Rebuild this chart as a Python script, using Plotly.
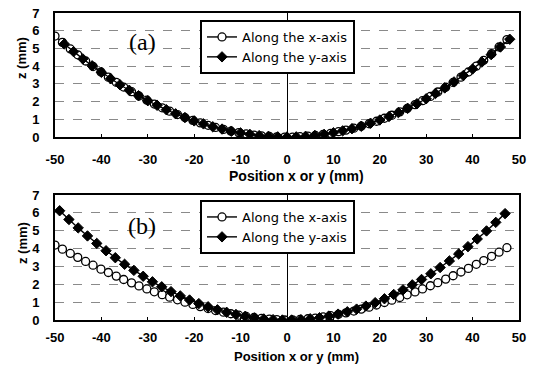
import plotly.graph_objects as go

# ---------------- data ----------------
x_ticks = [-50, -40, -30, -20, -10, 0, 10, 20, 30, 40, 50]
x_tick_text = ["-50", "-40", "-30", "-20", "-10", "0", "10", "20", "30", "40", "50"]
y_ticks = [0, 1, 2, 3, 4, 5, 6, 7]

# open-circle series positions (along the x-axis)
x_open = [-50.0, -48.4, -46.7, -45.1, -43.4, -41.8, -40.1, -38.5, -36.8, -35.2,
          -33.5, -31.9, -30.2, -28.6, -26.9, -25.3, -23.6, -22.0, -20.3, -18.7,
          -17.0, -15.4, -13.7, -12.1, -10.4, -8.8, -7.1, -5.5, -3.8, -2.2,
          -0.5, 1.2, 2.8, 4.5, 6.1, 7.8, 9.4, 11.1, 12.7, 14.4,
          16.0, 17.7, 19.3, 21.0, 22.6, 24.3, 25.9, 27.6, 29.2, 30.9,
          32.5, 34.2, 35.8, 37.5, 39.1, 40.8, 42.4, 44.1, 45.7, 47.4]

# (a) along the x-axis
za_x = [5.70, 5.34, 4.97, 4.64, 4.29, 3.98, 3.67, 3.38, 3.09, 2.82,
        2.56, 2.32, 2.08, 1.86, 1.65, 1.46, 1.27, 1.10, 0.94, 0.80,
        0.66, 0.54, 0.43, 0.33, 0.25, 0.18, 0.11, 0.07, 0.03, 0.01,
        0.00, 0.00, 0.02, 0.05, 0.09, 0.15, 0.21, 0.30, 0.39, 0.50,
        0.61, 0.75, 0.89, 1.06, 1.23, 1.42, 1.61, 1.83, 2.05, 2.29,
        2.54, 2.81, 3.08, 3.38, 3.67, 4.00, 4.33, 4.70, 5.08, 5.50]

# (a) along the y-axis
xa_y = [-48, -46, -44, -42, -40, -38, -36, -34, -32, -30,
        -28, -26, -24, -22, -20, -18, -16, -14, -12, -10,
        -8, -6, -4, -2, 0, 2, 4, 6, 8, 10,
        12, 14, 16, 18, 20, 22, 24, 26, 28, 30,
        32, 34, 36, 38, 40, 42, 44, 46, 48]
za_y = [5.25, 4.82, 4.41, 4.02, 3.65, 3.29, 2.95, 2.64, 2.33, 2.05,
        1.79, 1.54, 1.31, 1.10, 0.91, 0.74, 0.58, 0.45, 0.33, 0.23,
        0.15, 0.08, 0.04, 0.01, 0.00, 0.01, 0.04, 0.09, 0.15, 0.24,
        0.35, 0.47, 0.61, 0.78, 0.96, 1.16, 1.38, 1.62, 1.88, 2.16,
        2.46, 2.77, 3.11, 3.47, 3.84, 4.23, 4.65, 5.08, 5.52]

# (b) along the x-axis
zb_x = [4.20, 3.97, 3.73, 3.51, 3.28, 3.07, 2.85, 2.66, 2.46, 2.27,
        2.08, 1.91, 1.74, 1.58, 1.42, 1.28, 1.13, 1.00, 0.87, 0.75,
        0.64, 0.53, 0.44, 0.35, 0.27, 0.20, 0.14, 0.09, 0.05, 0.02,
        0.00, 0.01, 0.03, 0.07, 0.11, 0.17, 0.24, 0.32, 0.40, 0.50,
        0.61, 0.72, 0.84, 0.98, 1.11, 1.26, 1.41, 1.57, 1.74, 1.92,
        2.09, 2.29, 2.48, 2.69, 2.89, 3.12, 3.33, 3.57, 3.80, 4.05]

# (b) along the y-axis
xb_y = [-49, -47, -45, -43, -41, -39, -37, -35, -33, -31,
        -29, -27, -25, -23, -21, -19, -17, -15, -13, -11,
        -9, -7, -5, -3, -1, 1, 3, 5, 7, 9,
        11, 13, 15, 17, 19, 21, 23, 25, 27, 29,
        31, 33, 35, 37, 39, 41, 43, 45, 47]
zb_y = [6.12, 5.63, 5.16, 4.71, 4.29, 3.88, 3.49, 3.12, 2.78, 2.45,
        2.14, 1.86, 1.59, 1.35, 1.12, 0.92, 0.74, 0.57, 0.43, 0.31,
        0.21, 0.12, 0.06, 0.02, 0.00, 0.00, 0.02, 0.07, 0.13, 0.22,
        0.33, 0.46, 0.61, 0.78, 0.97, 1.19, 1.43, 1.69, 1.97, 2.27,
        2.59, 2.94, 3.31, 3.70, 4.11, 4.54, 4.99, 5.47, 5.96]

name_x = "Along the x-axis"
name_y = "Along the y-axis"
panel_labels = ["(a)", "(b)"]
x_title = "Position x or y (mm)"
y_title = "z (mm)"

# ---------------- figure ----------------
SANS = "Liberation Sans, Arial, sans-serif"
LEGSANS = "DejaVu Sans, Liberation Sans, sans-serif"
SERIF = "Liberation Serif, Times New Roman, serif"

open_marker = dict(symbol="circle", size=8, color="white",
                   line=dict(color="black", width=1.3))
fill_marker = dict(symbol="diamond", size=8, color="black",
                   line=dict(color="black", width=1))
line_style = dict(color="black", width=1.4)

fig = go.Figure()
fig.add_trace(go.Scatter(x=x_open, y=za_x, mode="lines+markers", name=name_x,
                         marker=open_marker, line=line_style,
                         xaxis="x", yaxis="y", legend="legend"))
fig.add_trace(go.Scatter(x=xa_y, y=za_y, mode="lines+markers", name=name_y,
                         marker=fill_marker, line=line_style,
                         xaxis="x", yaxis="y", legend="legend"))
fig.add_trace(go.Scatter(x=x_open, y=zb_x, mode="lines+markers", name=name_x,
                         marker=open_marker, line=line_style,
                         xaxis="x2", yaxis="y2", legend="legend2"))
fig.add_trace(go.Scatter(x=xb_y, y=zb_y, mode="lines+markers", name=name_y,
                         marker=fill_marker, line=line_style,
                         xaxis="x2", yaxis="y2", legend="legend2"))

tickfont = dict(family=SANS, size=13, color="black", weight="bold")
titlefont = dict(family=SANS, size=14, color="black", weight="bold")
btitlefont = dict(family=SANS, size=13, color="black", weight="bold")
ytitlefont = dict(family=SANS, size=13, color="black", weight="bold")

def xaxis_cfg(anchor, standoff):
    return dict(anchor=anchor, domain=[0, 1], range=[-50, 50],
                tickvals=x_ticks, ticktext=x_tick_text, tickfont=tickfont,
                ticks="inside", ticklen=3, tickcolor="black",
                ticklabelstandoff=standoff, automargin=False,
                showline=True, mirror=True, linecolor="black", linewidth=2,
                showgrid=False, zeroline=True, zerolinecolor="black",
                zerolinewidth=1)

def yaxis_cfg(anchor, domain):
    return dict(anchor=anchor, domain=domain, range=[0, 7],
                tickvals=y_ticks, tickfont=tickfont,
                ticks="", ticklabelstandoff=11, automargin=False,
                showline=True, mirror=True, linecolor="black", linewidth=2,
                showgrid=True, gridcolor="#8a8a8a", griddash="dash",
                gridwidth=1, zeroline=False)

legend_common = dict(bgcolor="white", bordercolor="black", borderwidth=2,
                     font=dict(family=LEGSANS, size=13, color="black"),
                     xanchor="left", yanchor="top", tracegroupgap=0,
                     itemwidth=30)

# plot area in window pixels: x 55..519, y 13..320
def py(px):
    return (320 - px) / 307.0

def pxx(px):
    return (px - 55) / 464.0

def ann(text, x, y, xref, yref, font, angle=0):
    return dict(text=text, x=x, y=y, xref=xref, yref=yref, showarrow=False,
                xanchor="center", yanchor="middle", textangle=angle, font=font)

serif_font = dict(family=SERIF, size=24, color="black")

fig.update_layout(
    width=536, height=365,
    margin=dict(l=55, r=17, t=13, b=45),
    paper_bgcolor="white", plot_bgcolor="white",
    showlegend=True,
    xaxis=xaxis_cfg("y", 9),
    yaxis=yaxis_cfg("x", [0.596, 1.0]),
    xaxis2=xaxis_cfg("y2", 4),
    yaxis2=yaxis_cfg("x2", [0.0, 0.407]),
    legend=dict(x=pxx(200), y=py(20), **legend_common),
    legend2=dict(x=pxx(200), y=py(200), **legend_common),
    annotations=[
        ann(panel_labels[0], -31.2, 5.37, "x", "y", serif_font),
        ann(panel_labels[1], -31.2, 5.24, "x2", "y2", serif_font),
        ann(x_title, 2, py(176), "x", "paper", titlefont),
        ann(x_title, 2, py(356), "x2", "paper", btitlefont),
        ann(y_title, pxx(22), py(58), "paper", "paper", ytitlefont, -90),
        ann(y_title, pxx(22), py(243), "paper", "paper", ytitlefont, -90),
    ],
)

fig.write_html("out.html",
               config={"displayModeBar": False},
               post_script="document.body.style.margin='0px';")
